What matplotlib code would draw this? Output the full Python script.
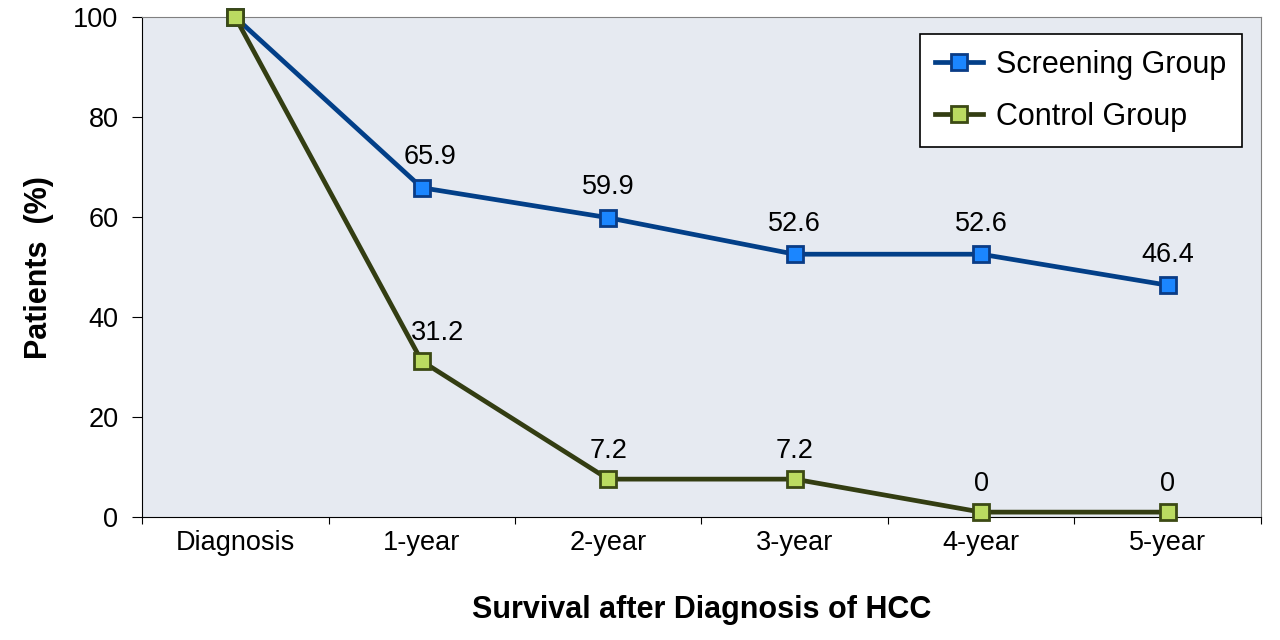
import matplotlib
matplotlib.use("Agg")
import matplotlib.pyplot as plt

plt.rcParams['font.family'] = ['Liberation Sans', 'DejaVu Sans']

categories = ["Diagnosis", "1-year", "2-year", "3-year", "4-year", "5-year"]
screening = [100, 65.9, 59.9, 52.6, 52.6, 46.4]
screening_labels = ["", "65.9", "59.9", "52.6", "52.6", "46.4"]
control = [100, 31.2, 7.6, 7.6, 1, 1]
control_labels = ["", "31.2", "7.2", "7.2", "0", "0"]

fig = plt.figure(figsize=(12.8, 6.4), dpi=100)
ax = fig.add_axes([0.111, 0.192, 0.874, 0.781])
ax.set_facecolor("#E6EAF1")

xpos = [i + 0.5 for i in range(len(categories))]

ax.plot(xpos, screening, color="#023F88", lw=3.4, marker="s", ms=12,
        mfc="#1B86FF", mec="#0A3C86", mew=2, label="Screening Group",
        clip_on=False, zorder=3)
ax.plot(xpos, control, color="#333D12", lw=3.4, marker="s", ms=12,
        mfc="#BBDB61", mec="#3C4A14", mew=2, label="Control Group",
        clip_on=False, zorder=4)

for i, (x, y, t) in enumerate(zip(xpos, screening, screening_labels)):
    if t:
        dx = 6 if i == 1 else 0
        ax.annotate(t, (x, y), xytext=(dx, 17), textcoords="offset points",
                    ha="center", va="baseline", fontsize=19.5)
for i, (x, y, t) in enumerate(zip(xpos, control, control_labels)):
    if t:
        dx = 11 if i == 1 else 0
        ax.annotate(t, (x, y), xytext=(dx, 15.5), textcoords="offset points",
                    ha="center", va="baseline", fontsize=19.5)

ax.set_xlim(0, 6)
ax.set_ylim(0, 100)
ax.set_yticks([0, 20, 40, 60, 80, 100])
ax.set_xticks(range(7))
ax.set_xticklabels([])
ax.set_xticks(xpos, minor=True)
ax.set_xticklabels(categories, minor=True)
ax.tick_params(axis="x", which="minor", length=0, pad=9, labelsize=19.5)
ax.tick_params(axis="x", which="major", length=5, direction="out")
ax.tick_params(axis="y", length=7, pad=10, labelsize=19.5)

for s in ["top", "right"]:
    ax.spines[s].set_color("#808080")
for s in ["left", "bottom"]:
    ax.spines[s].set_color("black")

ax.set_xlabel("Survival after Diagnosis of HCC", fontsize=22, fontweight="bold", labelpad=28)
ax.set_ylabel("Patients  (%)", fontsize=22, fontweight="bold", labelpad=14)

leg = ax.legend(loc="upper right", bbox_to_anchor=(0.983, 0.966), borderaxespad=0,
                fontsize=22, frameon=True, fancybox=False, edgecolor="black",
                facecolor="white", framealpha=1,
                handlelength=1.55, handletextpad=0.45, borderpad=0.5,
                labelspacing=0.72)
leg.get_frame().set_linewidth(1.2)

fig.savefig("out.png", dpi=100)
